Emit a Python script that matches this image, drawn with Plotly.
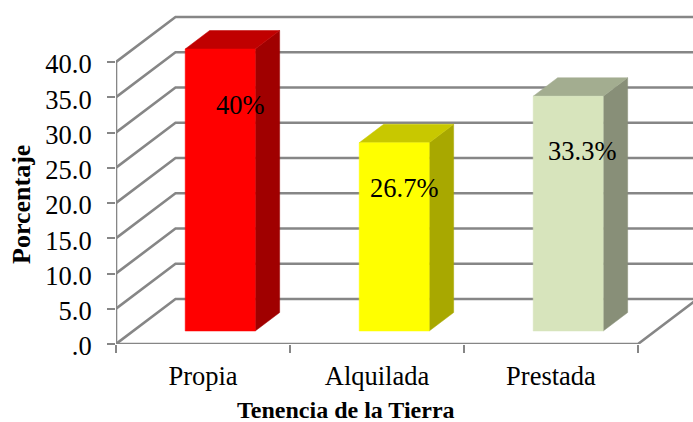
import plotly.graph_objects as go

categories = ["Propia", "Alquilada", "Prestada"]
values = [40.0, 26.7, 33.3]
value_labels = ["40%", "26.7%", "33.3%"]
y_ticks = [0, 5, 10, 15, 20, 25, 30, 35, 40]
y_tick_labels = [".0", "5.0", "10.0", "15.0", "20.0", "25.0", "30.0", "35.0", "40.0"]
front_colors = ["#FF0000", "#FFFF00", "#D7E4BC"]
top_colors = ["#C00000", "#C8C800", "#A3AD90"]
side_colors = ["#A00000", "#A8A800", "#888F78"]
label_fractions = [0.80, 0.76, 0.765]
label_shift_px = [20, 10, 14]

W, H = 693, 422
ML, MB = 116, 78
PX_PER_CAT, PX_PER_UNIT = 174.0, 7.05
x_min, x_max = 0.5, 0.5 + (W - ML) / PX_PER_CAT
y_max = (H - MB) / PX_PER_UNIT
DX, DY = 59.5 / PX_PER_CAT, 45 / PX_PER_UNIT
BAR_W = 70 / PX_PER_CAT
D_FRONT, D_BACK = 0.289, 0.70
GRID = "#868686"
LW = 2.6

fig = go.Figure()


def line(xs, ys):
    fig.add_trace(go.Scatter(x=xs, y=ys, mode="lines", cliponaxis=False, showlegend=False,
                             hoverinfo="skip", line=dict(color=GRID, width=LW)))


def poly(xs, ys, color):
    fig.add_trace(go.Scatter(x=xs, y=ys, mode="lines", fill="toself", fillcolor=color,
                             cliponaxis=False, showlegend=False, hoverinfo="skip",
                             line=dict(color=color, width=0.5)))


x0, x1 = 0.5, 0.5 + len(categories)
for t in y_ticks:
    line([x0, x0 + DX, x1 + DX], [t, t + DY, t + DY])
line([x0, x0], [y_ticks[0], y_ticks[-1]])
line([x0, x1, x1 + DX], [0, 0, DY])

for i, v in enumerate(values):
    left = i + 1 - BAR_W / 2 + D_FRONT * DX
    right = left + BAR_W
    base = D_FRONT * DY
    top = base + v
    sx = (D_BACK - D_FRONT) * DX
    sy = (D_BACK - D_FRONT) * DY
    poly([right, right + sx, right + sx, right, right], [base, base + sy, top + sy, top, base], side_colors[i])
    poly([left, left + sx, right + sx, right, left], [top, top + sy, top + sy, top, top], top_colors[i])
    poly([left, right, right, left, left], [base, base, top, top, base], front_colors[i])
    fig.add_annotation(x=(left + right) / 2 + label_shift_px[i] / PX_PER_CAT, y=base + v * label_fractions[i],
                       text=value_labels[i], showarrow=False, xanchor="center", yanchor="middle",
                       font=dict(family="Liberation Serif", size=26.5, color="black"))

fig.add_annotation(xref="paper", yref="paper", x=(346 - ML) / (W - ML), y=(344 - 410) / 344,
                   xanchor="center", yanchor="middle",
                   text="<b>Tenencia de la Tierra</b>", showarrow=False,
                   font=dict(family="Liberation Serif", size=24, color="black"))
fig.add_annotation(xref="paper", yref="paper", x=(22 - ML) / (W - ML), y=(344 - 204) / 344,
                   xanchor="center", yanchor="middle",
                   text="<b>Porcentaje</b>", showarrow=False, textangle=-90,
                   font=dict(family="Liberation Serif", size=26, color="black"))

fig.update_layout(
    width=W, height=H, margin=dict(l=ML, r=0, t=0, b=MB, pad=0),
    paper_bgcolor="white", plot_bgcolor="white", showlegend=False,
    font=dict(family="Liberation Serif", size=26.5, color="black"),
    xaxis=dict(range=[x_min, x_max], showgrid=False, zeroline=False, showline=False,
               tickmode="array", tickvals=[1, 2, 3], ticktext=categories, ticks="",
               ticklabelstandoff=13,
               minor=dict(tickmode="array", tickvals=[0.5, 1.5, 2.5, 3.5], ticks="outside",
                          ticklen=8, tickwidth=2, tickcolor=GRID, showgrid=False)),
    yaxis=dict(range=[0, y_max], showgrid=False, zeroline=False, showline=False,
               tickmode="array", tickvals=y_ticks, ticktext=y_tick_labels, ticks="outside",
               ticklen=8, tickwidth=2, tickcolor=GRID, ticklabelstandoff=10, ticklabelshift=2),
)

fig.write_html("out.html", post_script="document.body.style.margin='0';",
               config={"displayModeBar": False})
